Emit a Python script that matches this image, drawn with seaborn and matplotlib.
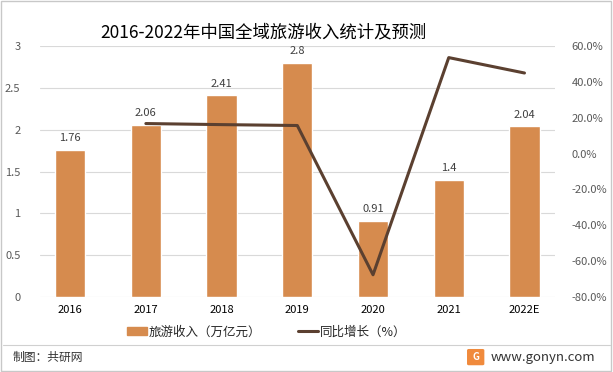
import matplotlib.pyplot as plt
import matplotlib.patches as mpatches
from matplotlib.lines import Line2D
import seaborn as sns
import pandas as pd
import numpy as np

sns.set_style('white')
plt.rcParams['font.family'] = ['Noto Sans CJK SC', 'DejaVu Sans']

years = ['2016', '2017', '2018', '2019', '2020', '2021', '2022E']
revenue = [1.76, 2.06, 2.41, 2.8, 0.91, 1.4, 2.04]
growth = [np.nan, 16.8, 16.2, 15.7, -67.6, 53.6, 45.0]

bar_color = '#D68B4E'
line_color = '#5B4030'

df = pd.DataFrame({'year': years, 'revenue': revenue, 'growth': growth})

fig = plt.figure(figsize=(6.13, 3.72), dpi=100)
ax = fig.add_axes([0.065, 0.2016, 0.84, 0.6744])

sns.barplot(data=df, x='year', y='revenue', color=bar_color, width=0.4,
            saturation=1, ax=ax)
ax.set_xlim(-0.4, 6.4)
ax.set_ylim(0, 3)
ax.set_yticks([0, 0.5, 1, 1.5, 2, 2.5, 3])
ax.set_yticklabels(['0', '0.5', '1', '1.5', '2', '2.5', '3'])
ax.yaxis.grid(True, color='#D9D9D9', linewidth=0.8)
ax.set_axisbelow(True)
for s in ax.spines.values():
    s.set_visible(False)
ax.set_xlabel('')
ax.set_ylabel('')
ax.tick_params(axis='y', labelsize=8, colors='#595959', length=0, pad=14)
ax.tick_params(axis='x', labelsize=8, colors='black', length=0, pad=6)

for i, v in enumerate(revenue):
    ax.text(i, v + 0.08, f'{v:g}', ha='center', va='bottom', fontsize=8,
            color='#404040')

ax2 = ax.twinx()
sns.lineplot(x=np.arange(len(years)), y=df['growth'], color=line_color,
             linewidth=2.2, ax=ax2)
ax2.set_ylim(-80, 60)
ax2.set_yticks(np.arange(-80, 61, 20))
ax2.set_yticklabels([f'{t:.1f}%' for t in np.arange(-80, 61, 20)])
ax2.tick_params(axis='y', labelsize=8, colors='#595959', length=0, pad=12)
ax2.set_ylabel('')
for s in ax2.spines.values():
    s.set_visible(False)

fig.text(0.43, 0.914, '2016-2022年中国全域旅游收入统计及预测', ha='center',
         va='center', fontsize=12.5, color='black')

handles = [mpatches.Patch(color=bar_color, label='旅游收入（万亿元）'),
           Line2D([0], [0], color=line_color, linewidth=2.2, label='同比增长（%）')]
fig.legend(handles=handles, loc='center', bbox_to_anchor=(0.435, 0.108), ncol=2,
           frameon=False, fontsize=9, handlelength=1.6, handletextpad=0.1,
           columnspacing=3)

# footer
fig.add_artist(Line2D([0.005, 0.995], [0.073, 0.073], color='#D0D0D0',
                      linewidth=0.8, transform=fig.transFigure))
fig.text(0.02, 0.04, '制图：共研网', ha='left', va='center', fontsize=8.5,
         color='#333333')
fig.add_artist(mpatches.FancyBboxPatch((0.765, 0.022), 0.022, 0.036,
                                       boxstyle='round,pad=0.002',
                                       color='#F08A3C',
                                       transform=fig.transFigure))
fig.text(0.776, 0.041, 'G', ha='center', va='center', fontsize=7,
         color='white', fontweight='bold')
fig.text(0.80, 0.04, 'www.gonyn.com', ha='left', va='center', fontsize=9.5,
         color='#333333')

fig.add_artist(mpatches.Rectangle((0.002, 0.003), 0.994, 0.993, fill=False,
                                  edgecolor='#C8C8C8', linewidth=1,
                                  transform=fig.transFigure))

fig.savefig('out.png', dpi=100)
